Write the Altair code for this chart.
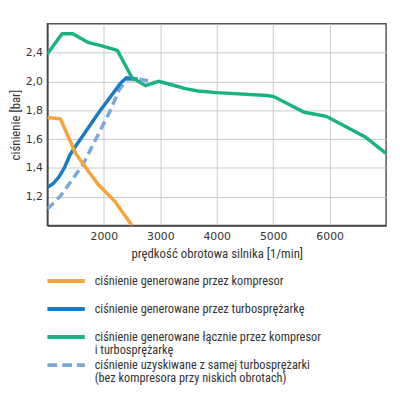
import altair as alt
import pandas as pd

# ---- data ----
rpm_kompresor = [1000, 1230, 1500, 1700, 1890, 2190, 2500]
p_kompresor = [1.75, 1.74, 1.50, 1.39, 1.29, 1.17, 1.00]

rpm_turbo = [1000, 1100, 1200, 1300, 1400, 1500, 1920, 2300, 2400, 2500, 2600]
p_turbo = [1.265, 1.29, 1.335, 1.40, 1.49, 1.55, 1.79, 1.99, 2.025, 2.02, 2.015]

rpm_lacznie = [1000, 1260, 1450, 1720, 1980, 2240, 2500, 2740, 2970, 3200,
               3440, 3670, 4000, 4890, 5010, 5550, 5940, 6630, 7000]
p_lacznie = [2.19, 2.33, 2.33, 2.27, 2.245, 2.215, 2.025, 1.97, 2.0, 1.977,
             1.95, 1.934, 1.922, 1.902, 1.895, 1.786, 1.758, 1.615, 1.50]

rpm_sama_turbo = [1000, 1230, 1630, 2100, 2270, 2410, 2620, 2880]
p_sama_turbo = [1.114, 1.204, 1.423, 1.786, 1.94, 2.012, 2.015, 1.998]

x_ticks = [2000, 3000, 4000, 5000, 6000]
y_ticks = [1.2, 1.4, 1.6, 1.8, 2.0, 2.2]

# legend: one entry per series, text split into its printed lines
legend_items = [0, 1, 2, 3]
legend_names = [
    "ciśnienie generowane przez kompresor",
    "ciśnienie generowane przez turbosprężarkę",
    "ciśnienie generowane łącznie przez kompresor",
    "ciśnienie uzyskiwane z samej turbosprężarki",
]
legend_line_item = [0, 1, 2, 2, 3, 3]
legend_line_no = [0, 0, 0, 1, 0, 1]
legend_lines = [
    "ciśnienie generowane przez kompresor",
    "ciśnienie generowane przez turbosprężarkę",
    "ciśnienie generowane łącznie przez kompresor",
    "i turbosprężarkę",
    "ciśnienie uzyskiwane z samej turbosprężarki",
    "(bez kompresora przy niskich obrotach)",
]

C_ORANGE = "#f8a23a"
C_BLUE = "#1b7bc2"
C_GREEN = "#19b282"
C_LBLUE = "#7aa8da"
colors = [C_ORANGE, C_BLUE, C_GREEN, C_LBLUE]

TEXT_FONT = "Liberation Sans Narrow, Roboto Condensed, Liberation Sans, sans-serif"
TICK_FONT = "DejaVu Sans"

x_enc = alt.X(
    "rpm:Q",
    scale=alt.Scale(domain=[1000, 7000], nice=False, zero=False),
    axis=alt.Axis(
        values=x_ticks, format="d", title="prędkość obrotowa silnika [1/min]",
        labelFont=TICK_FONT, labelFontSize=11, labelColor="#333",
        titleFont=TEXT_FONT, titleFontSize=13, titleFontWeight="normal", titleColor="#333",
        titlePadding=6, labelPadding=5, ticks=False,
        domainColor="#444", domainWidth=1.5,
        gridColor="#c9c9d0", gridWidth=1,
    ),
)
y_enc = alt.Y(
    "p:Q",
    scale=alt.Scale(domain=[1.0, 2.4], nice=False, zero=False),
    axis=alt.Axis(
        values=y_ticks,
        labelExpr="datum.value > 2.1 ? '2,4' : replace(format(datum.value, '.1f'), '.', ',')",
        title="ciśnienie [bar]",
        labelFont=TICK_FONT, labelFontSize=11, labelColor="#333",
        titleFont=TEXT_FONT, titleFontSize=13, titleFontWeight="normal", titleColor="#333",
        titlePadding=3, labelPadding=5, ticks=False,
        domainColor="#444", domainWidth=1.5,
        gridColor="#c9c9d0", gridWidth=1,
    ),
)


def series(rpm, p, color, dash=None, width=3.5):
    df = pd.DataFrame({"rpm": rpm, "p": p})
    kw = dict(color=color, strokeWidth=width, clip=True)
    if dash:
        kw["strokeDash"] = dash
    return alt.Chart(df).mark_line(**kw).encode(x=x_enc, y=y_enc)


main = alt.layer(
    series(rpm_sama_turbo, p_sama_turbo, C_LBLUE, dash=[9, 5]),
    series(rpm_turbo, p_turbo, C_BLUE),
    series(rpm_lacznie, p_lacznie, C_GREEN),
    series(rpm_kompresor, p_kompresor, C_ORANGE),
).properties(
    width=344, height=205,
    view=alt.ViewBackground(stroke="#555", strokeWidth=1.5),
)

leg_scale = alt.Scale(domain=[-0.5, 3.5], reverse=True)
leg_df = pd.DataFrame({"idx": legend_items, "label": legend_names})
leg_lines_df = pd.DataFrame({"idx": legend_line_item, "line": legend_line_no, "text": legend_lines})

leg_color = alt.Color("label:N", scale=alt.Scale(domain=legend_names, range=colors), legend=None)

leg_rules = alt.Chart(leg_df).mark_rule(strokeWidth=4).encode(
    x=alt.value(0), x2=alt.value(38),
    y=alt.Y("idx:Q", scale=leg_scale, axis=None),
    color=leg_color,
    strokeDash=alt.condition(alt.datum.idx == 3, alt.value([10, 5]), alt.value([1, 0])),
)
leg_text = alt.Chart(leg_lines_df).transform_calculate(
    ypos="datum.idx + datum.line * 0.455"
).mark_text(
    align="left", baseline="middle", font=TEXT_FONT, fontSize=12.5, color="#333",
).encode(
    x=alt.value(48),
    y=alt.Y("ypos:Q", scale=leg_scale, axis=None),
    text="text:N",
)

legend = alt.layer(leg_rules, leg_text).properties(
    width=344, height=114,
    view=alt.ViewBackground(stroke="transparent"),
)

chart = alt.vconcat(main, legend, spacing=5).properties(
    padding={"top": 12, "left": 0, "right": 5, "bottom": 2}
)

chart.save("out.html", embed_options={"renderer": "svg", "actions": False})
